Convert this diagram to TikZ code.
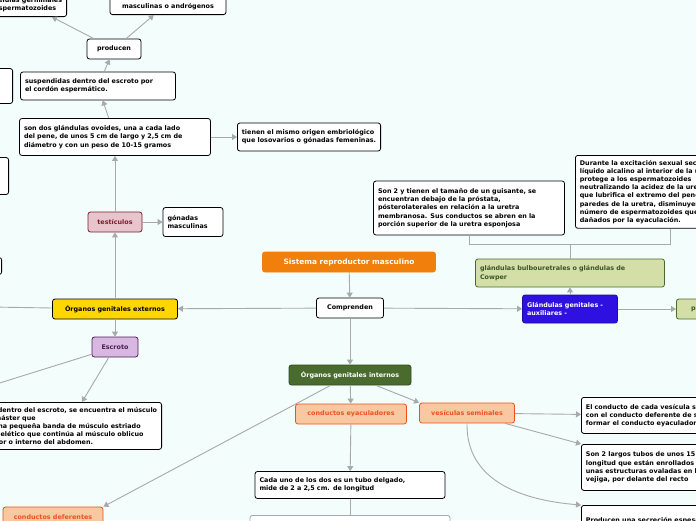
\documentclass[tikz,border=0pt]{standalone}
\usepackage{fontspec}
\setmainfont{DejaVu Sans}
\usetikzlibrary{arrows.meta}
\definecolor{bgc}{HTML}{F2FDFC}
\definecolor{edge}{HTML}{A9A9A9}
\definecolor{orng}{HTML}{F07F0C}
\definecolor{dkgreen}{HTML}{4A6B2E}
\definecolor{ltgreen}{HTML}{D4DFA8}
\definecolor{blu}{HTML}{2E10E0}
\definecolor{pinkf}{HTML}{E8C4CC}
\definecolor{pinkd}{HTML}{7A1F2E}
\definecolor{purf}{HTML}{D8B8E0}
\definecolor{purd}{HTML}{4A1E56}
\definecolor{salf}{HTML}{F8C8A0}
\definecolor{sald}{HTML}{F05020}
\definecolor{yel}{HTML}{FFD700}
\tikzset{
  box/.style={draw=black, fill=white, rounded corners=2.5pt, line width=0.8pt,
    font=\fontsize{6.4}{8.2}\selectfont\bfseries, align=left, inner sep=4.5pt},
  topic/.style={box, align=center, inner sep=5pt},
  link/.style={draw=edge, line width=0.9pt, -{Triangle[length=5pt,width=6pt]}},
  plain/.style={draw=edge, line width=0.9pt}
}
\begin{document}
\begin{tikzpicture}[x=1pt,y=-1pt]
\fill[bgc] (0,0) rectangle (696,520);
\useasboundingbox (0,0) rectangle (696,520);
\begin{scope}
\clip (0,0) rectangle (696,520);

% main topics
\node[topic, fill=orng, draw=orng, text=white, font=\fontsize{7.4}{8}\selectfont\bfseries, minimum width=173pt, minimum height=20pt] (title) at (349,262) {Sistema reproductor masculino};
\node[topic, minimum width=67pt, minimum height=20pt] (comp) at (350,308) {Comprenden};
\node[topic, fill=yel, minimum width=125pt, minimum height=20pt] (ext) at (115,309) {Órganos genitales externos};
\node[topic, fill=dkgreen, draw=dkgreen!70!black, text=white, minimum width=122pt, minimum height=20pt] (int) at (350,375) {Órganos genitales internos};
\node[box, fill=blu, draw=blu!70!black, text=white, text width=86pt, minimum height=28pt] (aux) at (570,309) {Glándulas genitales -\\auxiliares -};
\node[box, fill=ltgreen, draw=dkgreen, text=dkgreen!80!black, minimum width=60pt, minimum height=20pt, anchor=west] (prost) at (676,309) {próstata};

% glandulas bulbouretrales
\node[box, fill=ltgreen, draw=dkgreen, text=dkgreen!80!black, text width=180pt, minimum height=28pt] (bulbo) at (570,273) {glándulas bulbouretrales o glándulas de\\Cowper};
\node[box, text width=182pt, minimum height=54pt] (bdesc) at (469,208) {Son 2 y tienen el tamaño de un guisante, se\\encuentran debajo de la próstata,\\pósterolaterales en relación a la uretra\\membranosa. Sus conductos se abren en la\\porción superior de la uretra esponjosa};
\node[box, anchor=north west] (bfunc) at (575,155) {Durante la excitación sexual secretan un\\líquido alcalino al interior de la uretra que\\protege a los espermatozoides\\neutralizando la acidez de la uretra y moco\\que lubrifica el extremo del pene y las\\paredes de la uretra, disminuyendo el\\número de espermatozoides que resultan\\dañados por la eyaculación.};

% testiculos
\node[topic, fill=pinkf, draw=pinkd, text=pinkd, minimum width=54pt, minimum height=20pt] (test) at (115,222) {testículos};
\node[box, minimum height=29pt, text width=51pt] (gon) at (193,222) {gónadas\\masculinas};
\node[box, text width=182pt, minimum height=37pt] (ovo) at (115,137) {son dos glándulas ovoides, una a cada lado\\del pene, de unos 5 cm de largo y 2,5 cm de\\diámetro y con un peso de 10-15 gramos};
\node[box, minimum height=28pt] (orig) at (309,137) {tienen el mismo origen embriológico\\que losovarios o gónadas femeninas.};
\node[box, minimum height=28pt, text width=146pt] (susp) at (98,86) {suspendidas dentro del escroto por\\el cordón espermático.};
\node[topic, minimum width=54pt, minimum height=20pt] (prod) at (114,49) {producen};
\node[box, anchor=south, minimum width=116pt] (andro) at (168,15) {hormonas sexuales\\masculinas o andrógenos};
\node[box, anchor=south east] (esper) at (67,17) {células germinales\\espermatozoides};
\node[box, anchor=east, minimum width=60pt, minimum height=35pt] (left1) at (13,86) {};
\node[box, anchor=east, minimum width=60pt, minimum height=37pt] (left2) at (9,176) {};
\node[box, anchor=east, minimum width=60pt, minimum height=17pt] (left3) at (2,266) {};
\coordinate (extl) at (-10,307);

% escroto
\node[topic, fill=purf, draw=purd, text=purd, minimum width=46pt, minimum height=20pt] (escr) at (115,347) {Escroto};
\node[box, anchor=north east] (edesc) at (162,402) {Por dentro del escroto, se encuentra el músculo\\cremáster que\\es una pequeña banda de músculo estriado\\esquelético que continúa al músculo oblicuo\\menor o interno del abdomen.};
\coordinate (escl) at (-10,386);

% organos internos
\node[topic, fill=salf, draw=sald, text=sald, minimum width=111pt, minimum height=20pt] (eyac) at (351,414) {conductos eyaculadores};
\node[topic, fill=salf, draw=sald, text=sald, minimum width=95pt, minimum height=20pt] (vesi) at (467,413) {vesículas seminales};
\node[topic, fill=salf, draw=sald, text=sald, minimum width=100pt, minimum height=20pt] (defe) at (53,517) {conductos deferentes};
\node[box, text width=181pt, minimum height=27pt] (cada) at (350,485) {Cada uno de los dos es un tubo delgado,\\mide de 2 a 2,5 cm. de longitud};
\node[box, draw=edge, anchor=north, minimum width=200pt, minimum height=30pt] (gris) at (350,515) {};
\node[box, anchor=north west, minimum height=36pt] (vconj) at (581,397) {El conducto de cada vesícula se une\\con el conducto deferente de su lado para\\formar el conducto eyaculador};
\node[box, anchor=north west, minimum height=46pt] (vtub) at (581,444) {Son 2 largos tubos de unos 15 cm de\\longitud que están enrollados y forman\\unas estructuras ovaladas en la base de la\\vejiga, por delante del recto};
\node[box, anchor=north west, minimum height=30pt] (vsec) at (581,505) {Producen una secreción espesa y alcalina};

% conexiones
\draw[link] (title) -- (comp);
\draw[link] (comp) -- (ext);
\draw[link] (comp) -- (aux);
\draw[link] (comp) -- (int);
\draw[link] (aux) -- (bulbo);
\draw[link] (aux) -- (prost);
\draw[plain] (bulbo.north) -- ++(0,-14) coordinate (bj);
\draw[plain] (bdesc.south) |- (bj) -| (bfunc.south -| 670,0);
\draw[link] (ext) -- (test);
\draw[link] (ext) -- (escr);
\draw[plain] (ext) -- (extl);
\draw[link] (test) -- (gon);
\draw[link] (test) -- (ovo);
\draw[link] (ovo) -- (orig);
\draw[link] (ovo) -- (susp);
\draw[link] (susp) -- (prod);
\draw[link] (prod) -- (esper);
\draw[link] (prod) -- (andro);
\draw[link] (escr) -- (edesc.north -| 82,0);
\draw[plain] (escr) -- (escl);
\draw[link] (int) -- (eyac);
\draw[link] (int) -- (vesi.north west);
\draw[link] (int) -- (defe.north east);
\draw[link] (eyac) -- (cada);
\draw[plain] (cada) -- (gris);
\draw[link] (vesi) -- (vconj);
\draw[link] (vesi) -- (vtub.north west);
\draw[link] (vesi.south) .. controls (466,480) and (520,500) .. (vsec.north west);
\end{scope}
\end{tikzpicture}
\end{document}
